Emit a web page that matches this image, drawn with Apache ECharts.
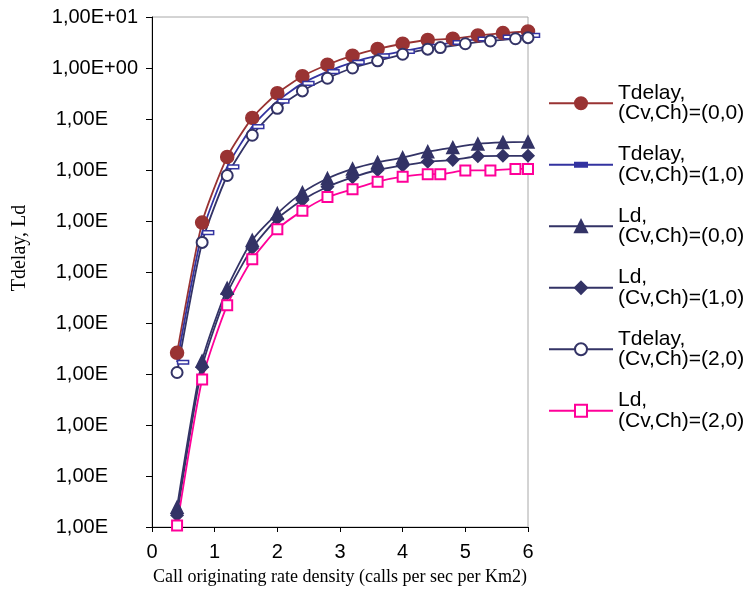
<!DOCTYPE html>
<html><head><meta charset="utf-8">
<script src="https://cdn.jsdelivr.net/npm/echarts@6/dist/echarts.min.js"></script>
<style>html,body{margin:0;padding:0;background:#fff}#c{width:750px;height:593px}</style>
</head><body><div id="c"></div>
<script>
// x positions (calls per sec per Km2)
const xA = [0.4, 0.8, 1.2, 1.6, 2.0, 2.4, 2.8, 3.2, 3.6, 4.0, 4.4, 4.8, 5.2, 5.6, 6.0];
const xB = [0.4, 0.8, 1.2, 1.6, 2.0, 2.4, 2.8, 3.2, 3.6, 4.0, 4.4, 4.6, 5.0, 5.4, 5.8, 6.0];

const tdelay00 = [2.6e-6, 9.3e-4, 1.8e-2, 0.105, 0.32, 0.69, 1.16, 1.74, 2.36, 2.99, 3.54, 3.75, 4.36, 4.85, 5.21];
const tdelay10 = [1.7e-6, 5.9e-4, 1.15e-2, 7.1e-2, 0.224, 0.50, 0.85, 1.29, 1.74, 2.11, 2.65, 3.16, 3.70, 4.05, 4.37];
const ld00     = [2.45e-9, 1.8e-6, 4.8e-5, 4.2e-4, 1.4e-3, 3.6e-3, 6.8e-3, 1.05e-2, 1.41e-2, 1.74e-2, 2.29e-2, 2.75e-2, 3.24e-2, 3.47e-2, 3.55e-2];
const ld10     = [1.7e-9, 1.35e-6, 3.8e-5, 2.95e-4, 1.12e-3, 2.57e-3, 4.7e-3, 7.2e-3, 1.0e-2, 1.23e-2, 1.45e-2, 1.58e-2, 1.86e-2, 1.9e-2, 1.9e-2];
const tdelay20 = [1.07e-6, 3.8e-4, 7.8e-3, 4.8e-2, 0.162, 0.355, 0.63, 1.0, 1.38, 1.86, 2.34, 2.51, 2.99, 3.39, 3.75, 3.93];
const ld20     = [1.07e-9, 7.8e-7, 2.24e-5, 1.78e-4, 6.9e-4, 1.58e-3, 2.95e-3, 4.2e-3, 5.9e-3, 7.4e-3, 8.3e-3, 8.3e-3, 9.8e-3, 9.8e-3, 1.05e-2, 1.05e-2];

const seriesNames = [
  'Tdelay,\n(Cv,Ch)=(0,0)',
  'Tdelay,\n(Cv,Ch)=(1,0)',
  'Ld,\n(Cv,Ch)=(0,0)',
  'Ld,\n(Cv,Ch)=(1,0)',
  'Tdelay,\n(Cv,Ch)=(2,0)',
  'Ld,\n(Cv,Ch)=(2,0)'
];
const yTickLabels = ['1,00E+01', '1,00E+00', '1,00E', '1,00E', '1,00E', '1,00E', '1,00E', '1,00E', '1,00E', '1,00E', '1,00E'];
const xAxisTitle = 'Call originating rate density (calls per sec per Km2)';
const yAxisTitle = 'Tdelay, Ld';

function pairs(xs, ys) { return xs.map((x, i) => [x, ys[i]]); }

const RED = '#993333', BLUE = '#3333a0', NAVY = '#333366', PINK = '#ff0099';
const dashPath = 'path://M0,0M12,12M0,4H12V8H0Z';

function mk(name, data, color, symbol, size, extra) {
  return Object.assign({
    name: name, type: 'line', data: data, smooth: 0.2,
    symbol: symbol, symbolSize: size,
    lineStyle: { color: color, width: 1.8 },
    itemStyle: { color: color, borderColor: color, borderWidth: 1.5 },
    emphasis: { disabled: true }
  }, extra || {});
}

const chart = echarts.init(document.getElementById('c'));
chart.setOption({
  animation: false,
  backgroundColor: '#fff',
  grid: { left: 152, right: 222, top: 17, bottom: 66, show: true, borderColor: '#a8a8a8', borderWidth: 1, backgroundColor: 'transparent' },
  xAxis: {
    type: 'value', min: 0, max: 6, interval: 1,
    axisLine: { show: true, lineStyle: { color: '#000', width: 1 } },
    axisTick: { show: true, inside: false, length: 5, lineStyle: { color: '#000' } },
    axisLabel: { color: '#000', fontSize: 20, fontFamily: 'Liberation Sans', margin: 15 },
    splitLine: { show: false },
    name: xAxisTitle, nameLocation: 'middle', nameGap: 41,
    nameTextStyle: { color: '#000', fontSize: 18, fontFamily: 'Liberation Serif' }
  },
  yAxis: {
    type: 'log', logBase: 10, min: 1e-9, max: 10, splitNumber: 10,
    axisLine: { show: true, lineStyle: { color: '#000', width: 1 } },
    axisTick: { show: true, inside: false, length: 6, lineStyle: { color: '#000' } },
    axisLabel: {
      color: '#000', fontSize: 20, fontFamily: 'Liberation Sans', margin: 14,
      formatter: function (v) {
        const idx = Math.round(1 - Math.log10(v));
        const t = yTickLabels[idx] || '';
        return t.indexOf('+') >= 0 ? t : '{cut|' + t + '}';
      },
      rich: { cut: { fontSize: 20, fontFamily: 'Liberation Sans', color: '#000', padding: [0, 30, 0, 0] } }
    },
    splitLine: { show: false }
  },
  legend: {
    orient: 'vertical', left: 548, top: 72.5, itemWidth: 64, itemHeight: 15, itemGap: 0, padding: 0,
    textStyle: { color: '#000', fontSize: 21, fontFamily: 'Liberation Sans', lineHeight: 20.5, padding: [20.5, 0, 0, 0] },
    data: [
      { name: seriesNames[0] },
      { name: seriesNames[1], itemStyle: { color: BLUE } },
      { name: seriesNames[2] },
      { name: seriesNames[3] },
      { name: seriesNames[4] },
      { name: seriesNames[5] }
    ]
  },
  graphic: [{
    type: 'text', x: 20, y: 248, rotation: Math.PI / 2,
    style: { text: yAxisTitle, fill: '#000', font: '20px "Liberation Serif"', textAlign: 'center', textVerticalAlign: 'middle' }
  }],
  series: [
    mk(seriesNames[0], pairs(xA, tdelay00), RED, 'circle', 13),
    mk(seriesNames[1], pairs(xA, tdelay10), BLUE, dashPath, 11, { symbolOffset: [6, 0], itemStyle: { color: '#fff', borderColor: BLUE, borderWidth: 1.5 } }),
    mk(seriesNames[2], pairs(xA, ld00), NAVY, 'triangle', 12),
    mk(seriesNames[3], pairs(xA, ld10), NAVY, 'diamond', 12),
    mk(seriesNames[4], pairs(xB, tdelay20), NAVY, 'emptyCircle', 11),
    mk(seriesNames[5], pairs(xB, ld20), PINK, 'emptyRect', 10)
  ]
});
</script></body></html>
